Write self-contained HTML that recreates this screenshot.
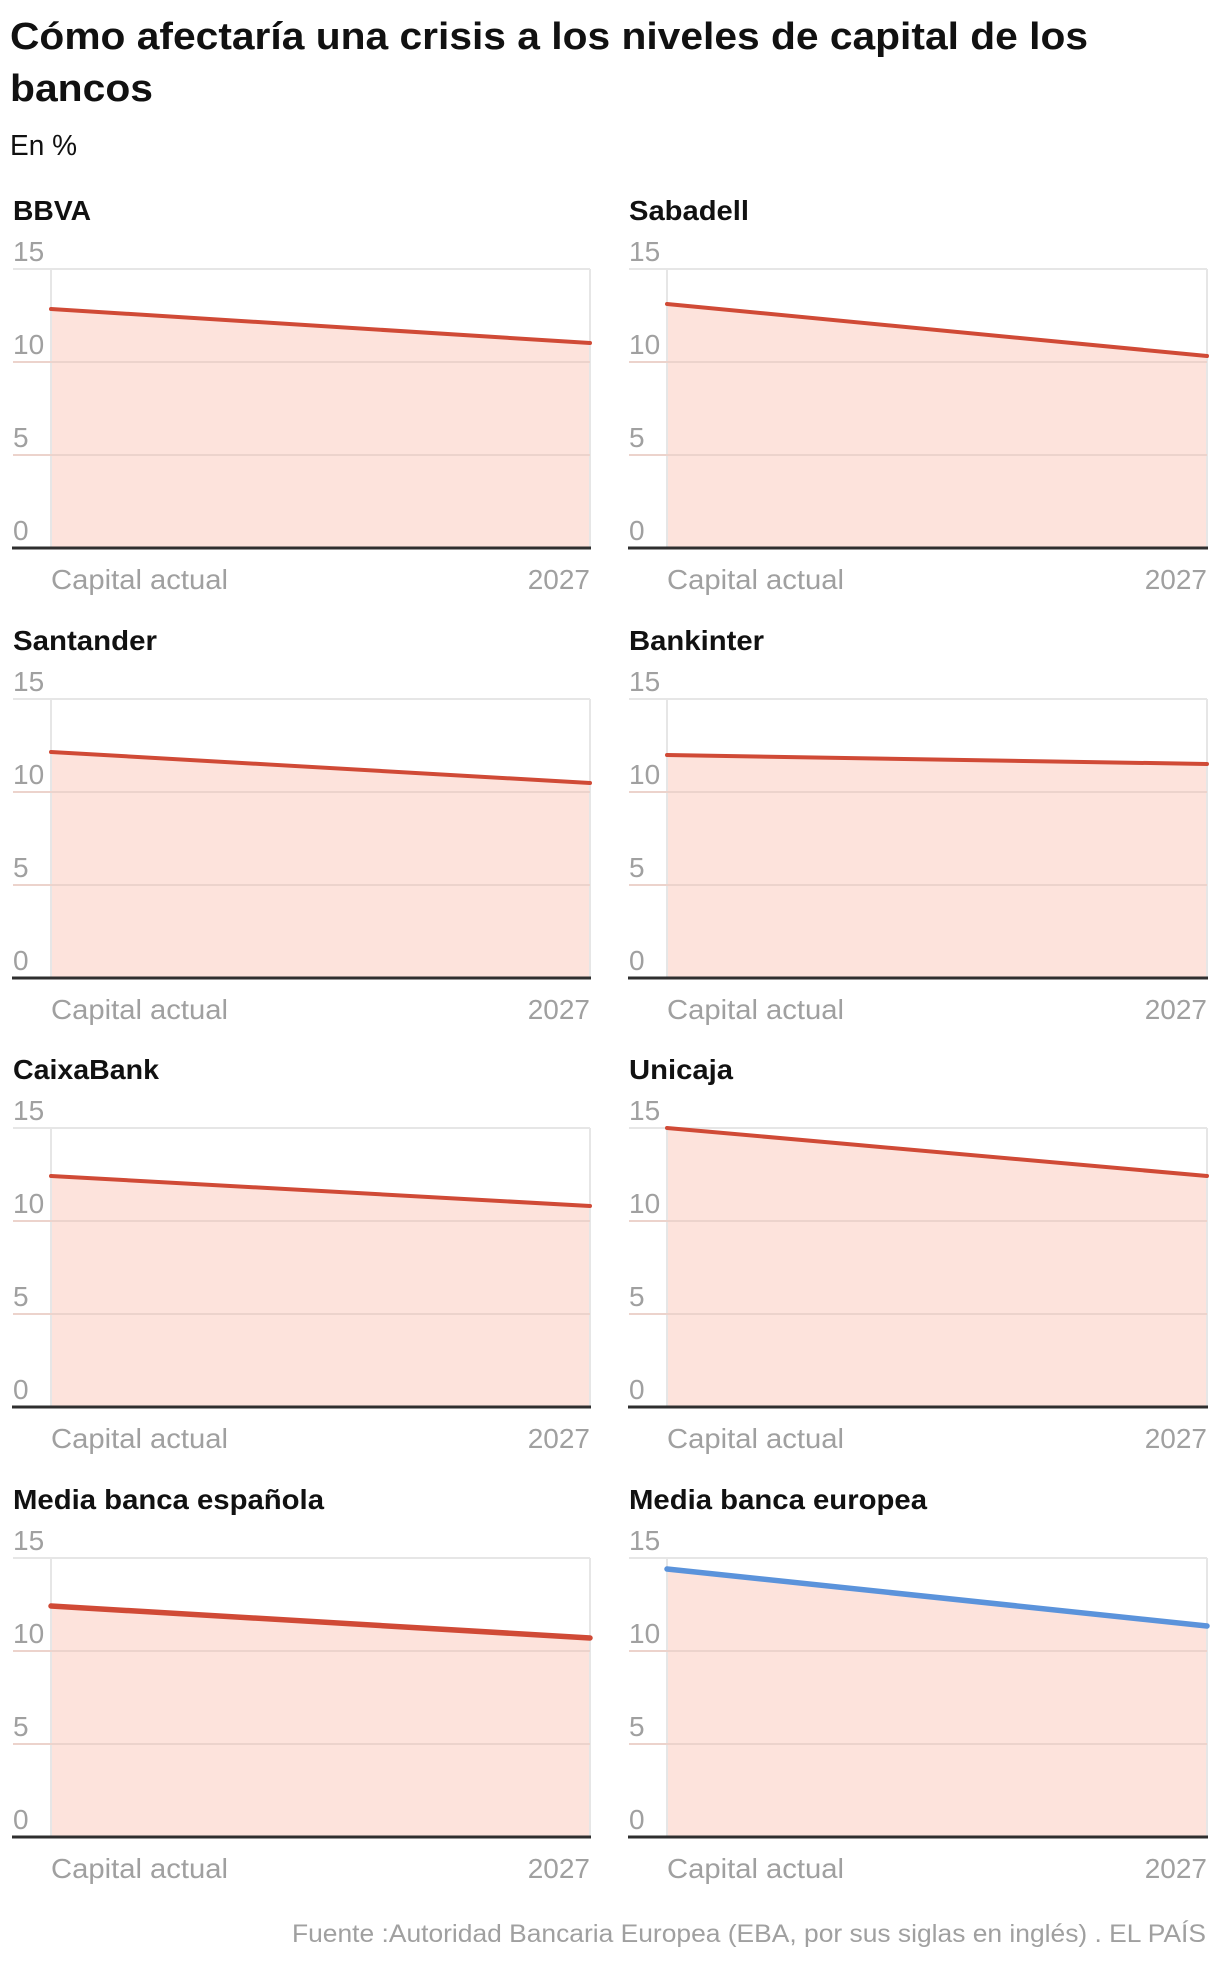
<!DOCTYPE html>
<html><head><meta charset="utf-8"><style>
html,body{margin:0;padding:0;background:#fff;}
svg{display:block;font-family:"Liberation Sans",sans-serif;}
.t{font-weight:bold;fill:#111;font-size:28px;}
.y{fill:#a0a0a0;font-size:28px;}
.x{fill:#a0a0a0;font-size:28px;}
.g{stroke:#e6e6e6;stroke-width:2;fill:none;}
.gp{stroke:#ecd3cc;stroke-width:2;}
.a{fill:#fde3dc;}
.b{stroke:#2f2f2f;stroke-width:3;}
.r{stroke:#d04a36;stroke-width:4;fill:none;stroke-linecap:round;}
</style></head><body>
<svg width="1220" height="1966" viewBox="0 0 1220 1966">
<text x="10" y="49" font-size="38" font-weight="bold" fill="#111" textLength="1078" lengthAdjust="spacingAndGlyphs">Cómo afectaría una crisis a los niveles de capital de los</text>
<text x="10" y="101" font-size="38" font-weight="bold" fill="#111" textLength="143" lengthAdjust="spacingAndGlyphs">bancos</text>
<text x="10" y="155" font-size="29" fill="#111" textLength="67" lengthAdjust="spacingAndGlyphs">En %</text>

<g transform="translate(0,3)">
<g>
<text class="t" x="13" y="217" textLength="78" lengthAdjust="spacingAndGlyphs">BBVA</text>
<text class="y" x="13" y="258">15</text><text class="y" x="13" y="351">10</text><text class="y" x="13" y="444">5</text><text class="y" x="13" y="537">0</text>
<polygon class="a" points="51,306 590,340 590,545 51,545"/>
<line class="g" x1="13" y1="266" x2="590" y2="266"/><line class="g" x1="51" y1="266" x2="51" y2="545"/><line class="g" x1="590" y1="266" x2="590" y2="545"/>
<line class="gp" x1="13" y1="359" x2="590" y2="359"/><line class="gp" x1="13" y1="452" x2="590" y2="452"/>
<line class="b" x1="12" y1="545" x2="591" y2="545"/>
<line class="r" x1="51" y1="306" x2="590" y2="340"/>
<text class="x" x="51" y="586" textLength="177" lengthAdjust="spacingAndGlyphs">Capital actual</text><text class="x" x="590" y="586" text-anchor="end">2027</text>
</g>
<g transform="translate(3,0)">
<text class="t" x="626" y="217" textLength="120" lengthAdjust="spacingAndGlyphs">Sabadell</text>
<text class="y" x="626" y="258">15</text><text class="y" x="626" y="351">10</text><text class="y" x="626" y="444">5</text><text class="y" x="626" y="537">0</text>
<polygon class="a" points="664,301 1204,353 1204,545 664,545"/>
<line class="g" x1="626" y1="266" x2="1204" y2="266"/><line class="g" x1="664" y1="266" x2="664" y2="545"/><line class="g" x1="1204" y1="266" x2="1204" y2="545"/>
<line class="gp" x1="626" y1="359" x2="1204" y2="359"/><line class="gp" x1="626" y1="452" x2="1204" y2="452"/>
<line class="b" x1="625" y1="545" x2="1205" y2="545"/>
<line class="r" x1="664" y1="301" x2="1204" y2="353"/>
<text class="x" x="664" y="586" textLength="177" lengthAdjust="spacingAndGlyphs">Capital actual</text><text class="x" x="1204" y="586" text-anchor="end">2027</text>
</g>
<g>
<text class="t" x="13" y="647" textLength="144" lengthAdjust="spacingAndGlyphs">Santander</text>
<text class="y" x="13" y="688">15</text><text class="y" x="13" y="781">10</text><text class="y" x="13" y="874">5</text><text class="y" x="13" y="967">0</text>
<polygon class="a" points="51,749 590,780 590,975 51,975"/>
<line class="g" x1="13" y1="696" x2="590" y2="696"/><line class="g" x1="51" y1="696" x2="51" y2="975"/><line class="g" x1="590" y1="696" x2="590" y2="975"/>
<line class="gp" x1="13" y1="789" x2="590" y2="789"/><line class="gp" x1="13" y1="882" x2="590" y2="882"/>
<line class="b" x1="12" y1="975" x2="591" y2="975"/>
<line class="r" x1="51" y1="749" x2="590" y2="780"/>
<text class="x" x="51" y="1016" textLength="177" lengthAdjust="spacingAndGlyphs">Capital actual</text><text class="x" x="590" y="1016" text-anchor="end">2027</text>
</g>
<g transform="translate(3,0)">
<text class="t" x="626" y="647" textLength="135" lengthAdjust="spacingAndGlyphs">Bankinter</text>
<text class="y" x="626" y="688">15</text><text class="y" x="626" y="781">10</text><text class="y" x="626" y="874">5</text><text class="y" x="626" y="967">0</text>
<polygon class="a" points="664,752 1204,761 1204,975 664,975"/>
<line class="g" x1="626" y1="696" x2="1204" y2="696"/><line class="g" x1="664" y1="696" x2="664" y2="975"/><line class="g" x1="1204" y1="696" x2="1204" y2="975"/>
<line class="gp" x1="626" y1="789" x2="1204" y2="789"/><line class="gp" x1="626" y1="882" x2="1204" y2="882"/>
<line class="b" x1="625" y1="975" x2="1205" y2="975"/>
<line class="r" x1="664" y1="752" x2="1204" y2="761"/>
<text class="x" x="664" y="1016" textLength="177" lengthAdjust="spacingAndGlyphs">Capital actual</text><text class="x" x="1204" y="1016" text-anchor="end">2027</text>
</g>
<g>
<text class="t" x="13" y="1076" textLength="146" lengthAdjust="spacingAndGlyphs">CaixaBank</text>
<text class="y" x="13" y="1117">15</text><text class="y" x="13" y="1210">10</text><text class="y" x="13" y="1303">5</text><text class="y" x="13" y="1396">0</text>
<polygon class="a" points="51,1173 590,1203 590,1404 51,1404"/>
<line class="g" x1="13" y1="1125" x2="590" y2="1125"/><line class="g" x1="51" y1="1125" x2="51" y2="1404"/><line class="g" x1="590" y1="1125" x2="590" y2="1404"/>
<line class="gp" x1="13" y1="1218" x2="590" y2="1218"/><line class="gp" x1="13" y1="1311" x2="590" y2="1311"/>
<line class="b" x1="12" y1="1404" x2="591" y2="1404"/>
<line class="r" x1="51" y1="1173" x2="590" y2="1203"/>
<text class="x" x="51" y="1445" textLength="177" lengthAdjust="spacingAndGlyphs">Capital actual</text><text class="x" x="590" y="1445" text-anchor="end">2027</text>
</g>
<g transform="translate(3,0)">
<text class="t" x="626" y="1076" textLength="104" lengthAdjust="spacingAndGlyphs">Unicaja</text>
<text class="y" x="626" y="1117">15</text><text class="y" x="626" y="1210">10</text><text class="y" x="626" y="1303">5</text><text class="y" x="626" y="1396">0</text>
<polygon class="a" points="664,1125 1204,1173 1204,1404 664,1404"/>
<line class="g" x1="626" y1="1125" x2="1204" y2="1125"/><line class="g" x1="664" y1="1125" x2="664" y2="1404"/><line class="g" x1="1204" y1="1125" x2="1204" y2="1404"/>
<line class="gp" x1="626" y1="1218" x2="1204" y2="1218"/><line class="gp" x1="626" y1="1311" x2="1204" y2="1311"/>
<line class="b" x1="625" y1="1404" x2="1205" y2="1404"/>
<line class="r" x1="664" y1="1125" x2="1204" y2="1173"/>
<text class="x" x="664" y="1445" textLength="177" lengthAdjust="spacingAndGlyphs">Capital actual</text><text class="x" x="1204" y="1445" text-anchor="end">2027</text>
</g>
<g>
<text class="t" x="13" y="1506" textLength="311" lengthAdjust="spacingAndGlyphs">Media banca española</text>
<text class="y" x="13" y="1547">15</text><text class="y" x="13" y="1640">10</text><text class="y" x="13" y="1733">5</text><text class="y" x="13" y="1826">0</text>
<polygon class="a" points="51,1603 590,1635 590,1834 51,1834"/>
<line class="g" x1="13" y1="1555" x2="590" y2="1555"/><line class="g" x1="51" y1="1555" x2="51" y2="1834"/><line class="g" x1="590" y1="1555" x2="590" y2="1834"/>
<line class="gp" x1="13" y1="1648" x2="590" y2="1648"/><line class="gp" x1="13" y1="1741" x2="590" y2="1741"/>
<line class="b" x1="12" y1="1834" x2="591" y2="1834"/>
<line class="r" style="stroke-width:5.5" x1="51" y1="1603" x2="590" y2="1635"/>
<text class="x" x="51" y="1875" textLength="177" lengthAdjust="spacingAndGlyphs">Capital actual</text><text class="x" x="590" y="1875" text-anchor="end">2027</text>
</g>
<g transform="translate(3,0)">
<text class="t" x="626" y="1506" textLength="298" lengthAdjust="spacingAndGlyphs">Media banca europea</text>
<text class="y" x="626" y="1547">15</text><text class="y" x="626" y="1640">10</text><text class="y" x="626" y="1733">5</text><text class="y" x="626" y="1826">0</text>
<polygon class="a" points="664,1566 1204,1623 1204,1834 664,1834"/>
<line class="g" x1="626" y1="1555" x2="1204" y2="1555"/><line class="g" x1="664" y1="1555" x2="664" y2="1834"/><line class="g" x1="1204" y1="1555" x2="1204" y2="1834"/>
<line class="gp" x1="626" y1="1648" x2="1204" y2="1648"/><line class="gp" x1="626" y1="1741" x2="1204" y2="1741"/>
<line class="b" x1="625" y1="1834" x2="1205" y2="1834"/>
<line class="r" style="stroke:#5b93db;stroke-width:5.5" x1="664" y1="1566" x2="1204" y2="1623"/>
<text class="x" x="664" y="1875" textLength="177" lengthAdjust="spacingAndGlyphs">Capital actual</text><text class="x" x="1204" y="1875" text-anchor="end">2027</text>
</g>
</g>

<text x="1206" y="1942" text-anchor="end" font-size="25" fill="#a0a0a0" textLength="914" lengthAdjust="spacingAndGlyphs">Fuente :Autoridad Bancaria Europea (EBA, por sus siglas en inglés) . EL PAÍS</text>
</svg>
</body></html>
